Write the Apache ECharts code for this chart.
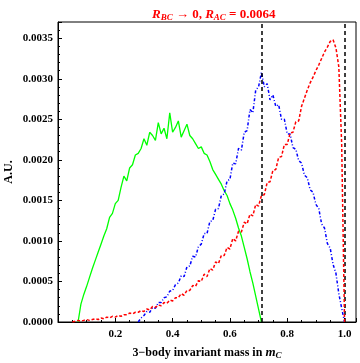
<!DOCTYPE html>
<html>
<head>
<meta charset="utf-8">
<script src="https://cdn.jsdelivr.net/npm/echarts@6/dist/echarts.min.js"></script>
<style>
  html, body { margin: 0; padding: 0; background: #fff; }
  #container { width: 360px; height: 363px; }
</style>
</head>
<body>
<div id="container"></div>
<script>
/* 3-body invariant mass histograms */

// bin width; values are in units of 1e-4 (A.U.)
const binWidth = 0.01;
const unit = 1e-4;

// green: solid, bins from 0.07
const greenStart = 0.07;
const greenVals = [
  0, 2.2, 3.4, 4.4, 5.5, 6.6, 7.6, 8.6, 9.6, 10.6,
  11.5, 12.9, 13.4, 14.6, 15.0, 16.6, 18.0, 17.4, 19.0, 19.4,
  20.6, 20.8, 21.4,
  22.6, 21.8, 23.4, 23.0, 22.4, 24.6, 23.2, 23.9, 22.6, 25.8,
  23.4, 24.0, 24.8, 22.8, 23.6, 24.4, 23.0, 22.6,
  22.0, 21.4, 21.6, 20.8, 20.6, 19.8, 18.8, 18.2, 17.6, 17.0,
  16.2, 15.6, 14.6, 13.8, 12.8, 11.6, 10.6, 9.2, 7.8, 6.2,
  4.8, 3.2, 1.6, 0
];

// blue: dash-dot, bins from 0.28
const blueStart = 0.28;
const blueVals = [
  0, 0.5, 0.8, 1.3, 1.2, 1.8, 1.7, 2.4, 2.4, 3.0,
  3.1, 3.8, 3.9, 4.6, 4.8, 5.7, 5.6, 6.8, 6.9, 8.1,
  8.0, 9.3, 9.6, 10.9, 10.9, 12.4, 12.5, 13.9, 14.0, 15.6,
  15.8, 17.4, 17.6, 19.6, 19.5, 21.4, 21.2, 23.4, 23.6, 26.2,
  25.8, 28.6, 29.0, 30.8, 29.0, 29.4, 27.4, 28.0, 26.6, 26.8,
  25.0, 25.0, 23.2, 23.2, 21.5, 21.3, 19.9, 19.6, 18.1, 17.8,
  16.3, 16.0, 14.5, 14.0, 12.1, 11.6, 9.7, 9.1, 7.1, 6.0,
  3.5, 1.7, 0
];

// red: dashed, bins from 0.05
const redStart = 0.05;
const redVals = [
  0, 0.1, 0.2, 0.1, 0.2, 0.3, 0.2, 0.3, 0.4, 0.3,
  0.5, 0.4, 0.6, 0.5, 0.7, 0.6, 0.8, 0.7, 0.9, 0.9,
  1.1, 1.0, 1.2, 1.2, 1.4, 1.3, 1.6, 1.5, 1.9, 1.8,
  2.1, 2.0, 2.4, 2.3, 2.7, 2.6, 3.0, 3.0, 3.5, 3.3,
  3.9, 3.9, 4.5, 4.4, 5.1, 5.0, 5.9, 5.6, 6.6, 6.4,
  7.4, 7.2, 8.2, 8.2, 9.2, 9.0, 10.3, 10.0, 11.2, 11.1,
  12.3, 12.1, 13.3, 13.1, 14.5, 14.3, 15.6, 15.7, 17.2, 17.3,
  18.7, 18.8, 20.3, 20.4, 21.9, 21.9, 23.3, 23.4, 24.7, 24.8,
  26.6, 27.6, 28.6, 29.5, 30.2, 31.0, 31.7, 32.5, 33.3, 33.9,
  34.6, 34.8, 33.8, 31.5, 22.0, 0
];

// dashed vertical markers
const thresholds = [0.71, 1.0];

function toPairs(start, vals) {
  return vals.map(function (v, i) {
    return [+(start + i * binWidth).toFixed(3), v * unit];
  });
}

const serif = '"Liberation Serif", "DejaVu Serif", serif';

let dom = document.getElementById('container');
let myChart = echarts.init(dom, null, { renderer: 'canvas' });

let option = {
  animation: false,
  backgroundColor: '#fff',
  title: {
    left: 147,
    top: 2,
    text: '{i|R}{s|BC}{n| \u2192 0, }{i|R}{s|AC}{n| = 0.0064}',
    textStyle: {
      rich: {
        i: { fontFamily: serif, fontSize: 13, fontStyle: 'italic', fontWeight: 'bold', color: '#ff0000' },
        s: { fontFamily: serif, fontSize: 9, fontStyle: 'italic', fontWeight: 'bold', color: '#ff0000', padding: [6, 0, 0, 0] },
        n: { fontFamily: serif, fontSize: 13, fontWeight: 'bold', color: '#ff0000' }
      }
    }
  },
  grid: {
    left: 58,
    right: 4,
    top: 22,
    bottom: 41,
    show: true,
    borderColor: '#000',
    borderWidth: 1,
    containLabel: false,
    outerBoundsMode: 'none'
  },
  xAxis: {
    type: 'value',
    min: 0,
    max: 1.04,
    interval: 0.2,
    name: '{n|3\u2212body invariant mass in }{i|m}{s|C}',
    nameLocation: 'middle',
    nameGap: 23,
    nameMoveOverlap: false,
    nameTextStyle: {
      rich: {
        n: { fontFamily: serif, fontSize: 12, fontWeight: 'bold', color: '#000' },
        i: { fontFamily: serif, fontSize: 13, fontStyle: 'italic', fontWeight: 'bold', color: '#000' },
        s: { fontFamily: serif, fontSize: 9, fontStyle: 'italic', fontWeight: 'bold', color: '#000', padding: [6, 0, 0, 0] }
      }
    },
    axisLine: { show: true, lineStyle: { color: '#000', width: 1 } },
    axisTick: { show: true, inside: true, length: 4, lineStyle: { color: '#000' } },
    minorTick: { show: true, splitNumber: 4, length: 2, lineStyle: { color: '#000' } },
    splitLine: { show: false },
    axisLabel: {
      showMinLabel: false,
      showMaxLabel: false,
      margin: 7,
      fontFamily: serif,
      fontSize: 11,
      fontWeight: 'bold',
      color: '#000',
      formatter: function (v) { return v.toFixed(1); }
    }
  },
  yAxis: {
    type: 'value',
    min: 0,
    max: 0.0037,
    interval: 0.0005,
    name: 'A.U.',
    nameLocation: 'middle',
    nameGap: 43,
    nameMoveOverlap: false,
    nameTextStyle: { fontFamily: serif, fontSize: 12, fontWeight: 'bold', color: '#000' },
    axisLine: { show: true, lineStyle: { color: '#000', width: 1 } },
    axisTick: { show: true, inside: true, length: 4, lineStyle: { color: '#000' } },
    minorTick: { show: true, splitNumber: 5, length: 2, lineStyle: { color: '#000' } },
    splitLine: { show: false },
    axisLabel: {
      showMaxLabel: false,
      margin: 5,
      fontFamily: serif,
      fontSize: 11,
      fontWeight: 'bold',
      color: '#000',
      formatter: function (v) { return v.toFixed(4); }
    }
  },
  series: [
    {
      name: 'green',
      type: 'line',
      showSymbol: false,
      data: toPairs(greenStart, greenVals),
      lineStyle: { color: '#00ff00', width: 1.3 },
      z: 3
    },
    {
      name: 'blue',
      type: 'line',
      showSymbol: false,
      data: toPairs(blueStart, blueVals),
      lineStyle: { color: '#0000ff', width: 1.5, type: [3, 2, 1, 2] },
      z: 4
    },
    {
      name: 'red',
      type: 'line',
      showSymbol: false,
      data: toPairs(redStart, redVals),
      lineStyle: { color: '#ff0000', width: 1.5, type: [3, 2] },
      z: 5,
      markLine: {
        silent: true,
        symbol: 'none',
        label: { show: false },
        lineStyle: { color: '#000', type: [4, 3], width: 1.5 },
        data: thresholds.map(function (t) { return { xAxis: t }; })
      }
    }
  ]
};

myChart.setOption(option);
</script>
</body>
</html>
